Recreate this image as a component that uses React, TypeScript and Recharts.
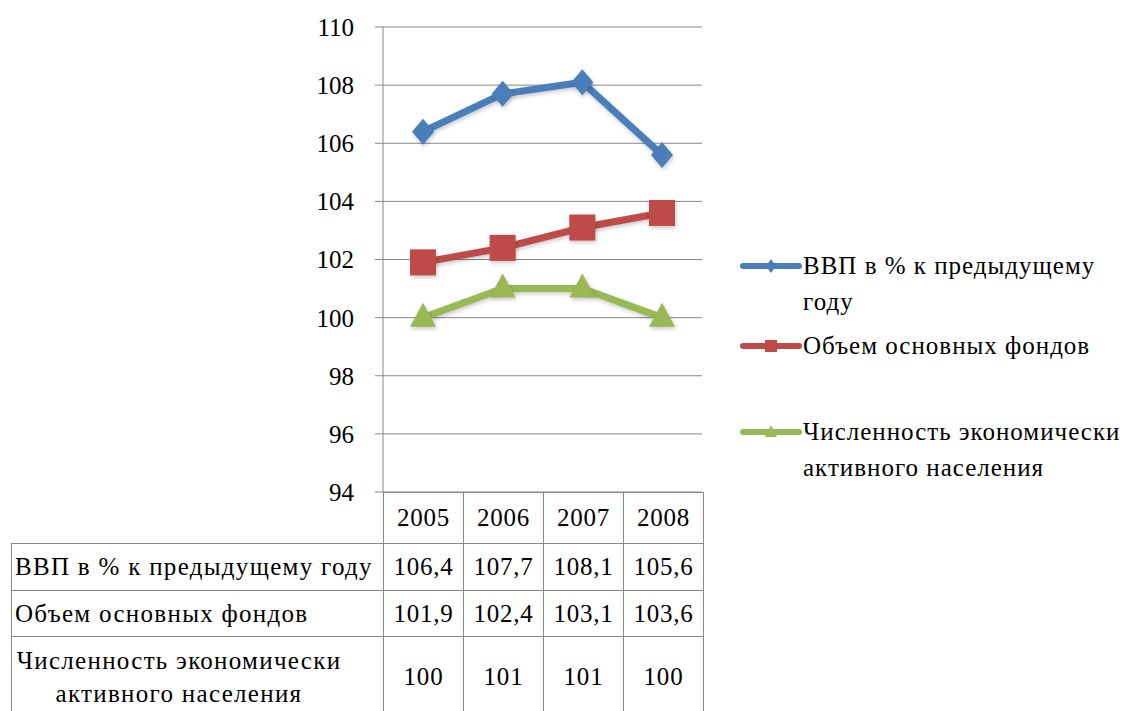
import React from 'react';
import { LineChart, Line, XAxis, YAxis, CartesianGrid, Legend } from 'recharts';

const years = ['2005', '2006', '2007', '2008'];
const gdp = [106.4, 107.7, 108.1, 105.6];
const funds = [101.9, 102.4, 103.1, 103.6];
const workforce = [100, 101, 101, 100];
const seriesNames = [
  'ВВП в % к предыдущему году',
  'Объем основных фондов',
  'Численность экономически активного населения',
];
const tableLabels = [
  'ВВП в % к предыдущему году',
  'Объем основных фондов',
  'Численность экономически активного населения',
];
const yTicks = [94, 96, 98, 100, 102, 104, 106, 108, 110];

const BLUE = '#4a7ebb';
const RED = '#be4b48';
const GREEN = '#98b954';
const GRID = '#888888';
const FONT = '"Liberation Serif", "DejaVu Serif", serif';

const data = years.map((y, i) => ({ year: y, gdp: gdp[i], funds: funds[i], workforce: workforce[i] }));
const rows = [gdp, funds, workforce];

const fmt = (v: number) => (Number.isInteger(v) ? String(v) : v.toFixed(1).replace('.', ','));

const Diamond = (props: any) => {
  const { cx, cy, index } = props;
  if (cx == null || cy == null) return <g key={index} />;
  return <polygon key={index} points={`${cx},${cy - 13} ${cx + 11},${cy} ${cx},${cy + 13} ${cx - 11},${cy}`} fill={BLUE} />;
};
const Square = (props: any) => {
  const { cx, cy, index } = props;
  if (cx == null || cy == null) return <g key={index} />;
  return <rect key={index} x={cx - 13} y={cy - 13} width={26} height={26} fill={RED} />;
};
const Triangle = (props: any) => {
  const { cx, cy, index } = props;
  if (cx == null || cy == null) return <g key={index} />;
  return <polygon key={index} points={`${cx},${cy - 15} ${cx + 13},${cy + 9} ${cx - 13},${cy + 9}`} fill={GREEN} />;
};

const legendIcon = (i: number, color: string) => {
  let marker;
  if (i === 0) marker = <polygon points="31,3 36,10 31,17 26,10" fill={color} />;
  else if (i === 1) marker = <rect x={25} y={4} width={12} height={12} fill={color} />;
  else marker = <polygon points="31,3 37,15 25,15" fill={color} />;
  return (
    <svg width={62} height={20} style={{ flex: 'none', marginTop: 8 }}>
      <line x1={3} y1={10} x2={59} y2={10} stroke={color} strokeWidth={6} strokeLinecap="round" />
      {marker}
    </svg>
  );
};

const LegendContent = (props: any) => {
  const { payload } = props;
  const heights = [80, 86, 80];
  return (
    <div style={{ fontFamily: FONT, fontSize: 25, lineHeight: '36px', color: '#000', textAlign: 'left', letterSpacing: 1.0 }}>
      {(payload || []).map((p: any, i: number) => (
        <div key={i} style={{ display: 'flex', alignItems: 'flex-start', height: heights[i] }}>
          {legendIcon(i, p.color)}
          <div style={{ width: 330, marginLeft: 1 }}>{p.value}</div>
        </div>
      ))}
    </div>
  );
};

const cell: React.CSSProperties = {
  border: `1px solid ${GRID}`,
  padding: 0,
  textAlign: 'center',
  verticalAlign: 'middle',
  letterSpacing: 0.8,
};

export default function App() {
  return (
    <div style={{ position: 'absolute', left: 0, top: 0, width: 1127, height: 711, overflow: 'hidden', background: '#fff', fontFamily: FONT }}>
      <style>{'.recharts-line-curve, .recharts-line-dots { filter: drop-shadow(1px 2px 2px rgba(0,0,0,0.22)); }'}</style>
      <LineChart
        width={1127}
        height={711}
        data={data}
        margin={{ top: 27, right: 425, bottom: 219, left: 0 }}
        style={{ position: 'absolute', left: 0, top: 0 }}
      >
        <CartesianGrid horizontal vertical={false} stroke={GRID} />
        <XAxis dataKey="year" hide padding={{ left: 40, right: 40 }} />
        <YAxis
          width={383}
          domain={[94, 110]}
          ticks={yTicks}
          interval={0}
          axisLine={{ stroke: GRID }}
          tickLine={{ stroke: GRID }}
          tickSize={8}
          tickMargin={21}
          tick={{ fill: '#000', fontSize: 25, fontFamily: FONT }}
        />
        <Legend
          layout="vertical"
          align="center"
          verticalAlign="middle"
          content={<LegendContent />}
          wrapperStyle={{ left: 740, top: 248, width: 395 }}
        />
        <Line dataKey="gdp" name={seriesNames[0]} stroke={BLUE} strokeWidth={7} strokeLinejoin="round" dot={<Diamond />} activeDot={false} isAnimationActive={false} />
        <Line dataKey="funds" name={seriesNames[1]} stroke={RED} strokeWidth={7} strokeLinejoin="round" dot={<Square />} activeDot={false} isAnimationActive={false} />
        <Line dataKey="workforce" name={seriesNames[2]} stroke={GREEN} strokeWidth={7} strokeLinejoin="round" dot={<Triangle />} activeDot={false} isAnimationActive={false} />
      </LineChart>
      <table
        style={{
          position: 'absolute',
          left: 11,
          top: 492,
          borderCollapse: 'collapse',
          tableLayout: 'fixed',
          width: 372 + 80 * 4,
          fontSize: 25,
          fontFamily: FONT,
          color: '#000',
        }}
      >
        <colgroup>
          <col style={{ width: 372 }} />
          {years.map((y) => (
            <col key={y} style={{ width: 80 }} />
          ))}
        </colgroup>
        <tbody>
          <tr style={{ height: 51 }}>
            <td style={{ padding: 0, border: 'none' }} />
            {years.map((y) => (
              <td key={y} style={cell}>{y}</td>
            ))}
          </tr>
          {rows.map((r, ri) => (
            <tr key={ri} style={{ height: ri === 0 ? 47 : ri === 1 ? 46 : 80 }}>
              <td
                style={{
                  ...cell,
                  letterSpacing: 1.3,
                  textAlign: ri === 2 ? 'center' : 'left',
                  paddingLeft: 3,
                  paddingRight: ri === 2 ? 40 : 0,
                  lineHeight: ri === 2 ? '33px' : undefined,
                  whiteSpace: ri === 2 ? 'normal' : 'nowrap',
                }}
              >
                {tableLabels[ri]}
              </td>
              {r.map((v, ci) => (
                <td key={ci} style={cell}>{fmt(v)}</td>
              ))}
            </tr>
          ))}
        </tbody>
      </table>
    </div>
  );
}
